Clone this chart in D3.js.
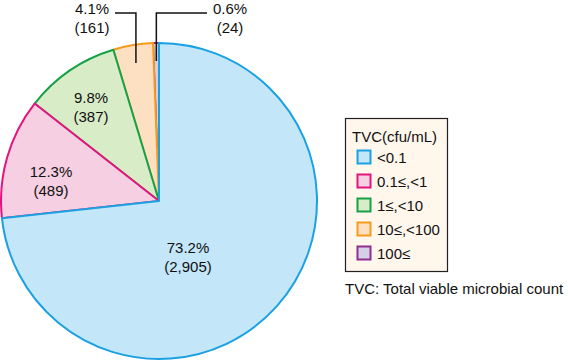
<!DOCTYPE html>
<html>
<head>
<meta charset="utf-8">
<script src="https://cdn.jsdelivr.net/npm/d3@7"></script>
<style>
  body { margin: 0; background: #fff; }
  text { font-family: "Liberation Sans", Arial, sans-serif; fill: #111; }
</style>
</head>
<body>
<div id="chart"></div>
<script>
// data
var categories = ["<0.1", "0.1\u2264,<1", "1\u2264,<10", "10\u2264,<100", "100\u2264"];
var counts = [2905, 489, 387, 161, 24];
var fills = ["#c3e6f8", "#f6cfe2", "#d9ecc8", "#fde0c2", "#d6cfe8"];
var strokes = ["#1ba1e2", "#e2147f", "#16a146", "#f59b1c", "#8e2e8e"];
var legendTitle = "TVC(cfu/mL)";
var footnote = "TVC: Total viable microbial count";

var width = 568, height = 361;
var cx = 159, cy = 201, radius = 158;

var total = d3.sum(counts);
var data = categories.map(function(c, i) {
    return { cat: c, value: counts[i], fill: fills[i], stroke: strokes[i] };
});

var svg = d3.select("#chart").append("svg")
    .attr("width", width)
    .attr("height", height);

var pie = d3.pie().sort(null).value(function(d) { return d.value; });
var arcs = pie(data);
var arc = d3.arc().innerRadius(0).outerRadius(radius);

var g = svg.append("g").attr("transform", "translate(" + cx + "," + cy + ")");

// draw in reverse so each slice's edge sits on top of the next one
g.selectAll("path")
    .data(arcs.slice().reverse())
    .enter().append("path")
    .attr("d", arc)
    .attr("fill", function(d) { return d.data.fill; })
    .attr("stroke", function(d) { return d.data.stroke; })
    .attr("stroke-width", 2)
    .attr("stroke-linejoin", "round");

var fmt = d3.format(",");
function pct(v) { return (v / total * 100).toFixed(1) + "%"; }

// labels inside the big slices
var inside = [
    { i: 0, x: 188, y: 248 },
    { i: 1, x: 51, y: 172 },
    { i: 2, x: 91, y: 98 }
];
inside.forEach(function(l) {
    var d = data[l.i];
    var t = svg.append("text")
        .attr("text-anchor", "middle")
        .attr("font-size", 15);
    t.append("tspan").attr("x", l.x).attr("y", l.y + 5).text(pct(d.value));
    t.append("tspan").attr("x", l.x).attr("y", l.y + 24).text("(" + fmt(d.value) + ")");
});

// small slices get leader lines up to labels above the pie
var outer = d3.arc().innerRadius(140).outerRadius(140);
var callouts = [
    { i: 3, x: 92, lineEnd: 115 },
    { i: 4, x: 230, lineEnd: 207 }
];
var lineY = 13;
callouts.forEach(function(l) {
    var d = data[l.i];
    var c = outer.centroid(arcs[l.i]);
    var px = cx + c[0], py = cy + c[1];
    svg.append("path")
        .attr("d", "M" + px + "," + py + "V" + lineY + "H" + l.lineEnd)
        .attr("fill", "none")
        .attr("stroke", "#111")
        .attr("stroke-width", 1.5);
    var t = svg.append("text")
        .attr("text-anchor", "middle")
        .attr("font-size", 15);
    t.append("tspan").attr("x", l.x).attr("y", 14).text(pct(d.value));
    t.append("tspan").attr("x", l.x).attr("y", 33).text("(" + fmt(d.value) + ")");
});

// legend
var lg = svg.append("g").attr("transform", "translate(345,118)");
lg.append("rect")
    .attr("x", 0.5).attr("y", 0.5)
    .attr("width", 102).attr("height", 153)
    .attr("fill", "#fff6ec")
    .attr("stroke", "#222")
    .attr("stroke-width", 1.2);
lg.append("text")
    .attr("x", 7).attr("y", 24)
    .attr("font-size", 15)
    .text(legendTitle);

var ly = d3.scalePoint().domain(categories).range([39, 135]);
var items = lg.selectAll(".item")
    .data(data)
    .enter().append("g")
    .attr("class", "item")
    .attr("transform", function(d) { return "translate(0," + ly(d.cat) + ")"; });
items.append("rect")
    .attr("x", 12.5).attr("y", -6.5)
    .attr("width", 13).attr("height", 13)
    .attr("fill", function(d) { return d.fill; })
    .attr("stroke", function(d) { return d.stroke; })
    .attr("stroke-width", 2);
items.append("text")
    .attr("x", 32).attr("y", 5.5)
    .attr("font-size", 15)
    .text(function(d) { return d.cat; });

svg.append("text")
    .attr("x", 345).attr("y", 294)
    .attr("font-size", 15)
    .text(footnote);
</script>
</body>
</html>
